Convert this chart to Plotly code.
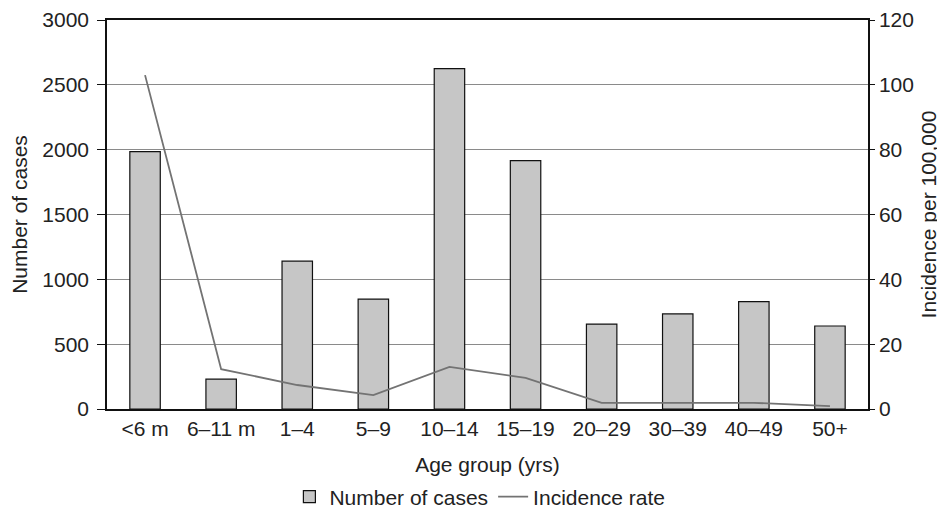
import plotly.graph_objects as go

categories = ["<6 m", "6–11 m", "1–4", "5–9", "10–14", "15–19", "20–29", "30–39", "40–49", "50+"]
cases = [1985, 230, 1140, 848, 2625, 1915, 655, 733, 828, 640]
incidence = [103, 12.3, 7.4, 4.3, 13, 9.6, 1.9, 1.9, 1.9, 0.9]

font_family = "Liberation Sans, Arial, sans-serif"
FS = 21

fig = go.Figure()
fig.add_trace(go.Bar(
    x=categories, y=cases, name="Number of cases",
    marker=dict(color="#c6c6c6", line=dict(color="#111111", width=1.2)),
    yaxis="y",
))
fig.add_trace(go.Scatter(
    x=categories, y=incidence, name="Incidence rate", mode="lines",
    line=dict(color="#737373", width=1.8),
    yaxis="y2",
))

# page body has an 8px default margin, so the figure is sized to fit the window
fig.update_layout(
    width=937, height=502,
    margin=dict(l=99, r=77, t=12, b=101, autoexpand=False),
    paper_bgcolor="white", plot_bgcolor="white",
    font=dict(family=font_family, size=FS, color="#222222"),
    bargap=0.6,
    showlegend=True,
    legend=dict(orientation="h", x=0.49, xanchor="center", y=-0.226, yanchor="middle",
                font=dict(size=FS), tracegroupgap=0),
    xaxis=dict(
        automargin=False,
        showline=True, linecolor="#111111", linewidth=1.5, mirror=True,
        ticks="", showgrid=False,
        title=dict(text="Age group (yrs)", standoff=18, font=dict(size=FS)),
        tickfont=dict(size=FS),
    ),
    yaxis=dict(
        automargin=False,
        range=[0, 3000], tickvals=[0, 500, 1000, 1500, 2000, 2500, 3000],
        showline=True, linecolor="#111111", linewidth=1.5,
        ticks="outside", ticklen=8, tickcolor="#111111",
        ticklabelstandoff=4,
        showgrid=True, gridcolor="#8a8a8a", gridwidth=1.2,
        zeroline=False,
        title=dict(text="Number of cases", standoff=10, font=dict(size=FS)),
        tickfont=dict(size=FS),
    ),
    yaxis2=dict(
        automargin=False,
        range=[0, 120], tickvals=[0, 20, 40, 60, 80, 100, 120],
        overlaying="y", side="right",
        showline=True, linecolor="#111111", linewidth=1.5,
        ticks="outside", ticklen=5, tickcolor="#111111",
        showgrid=False, zeroline=False,
        title=dict(text="Incidence per 100,000", standoff=8, font=dict(size=FS)),
        tickfont=dict(size=FS),
    ),
)

fig.write_html("out.html")
